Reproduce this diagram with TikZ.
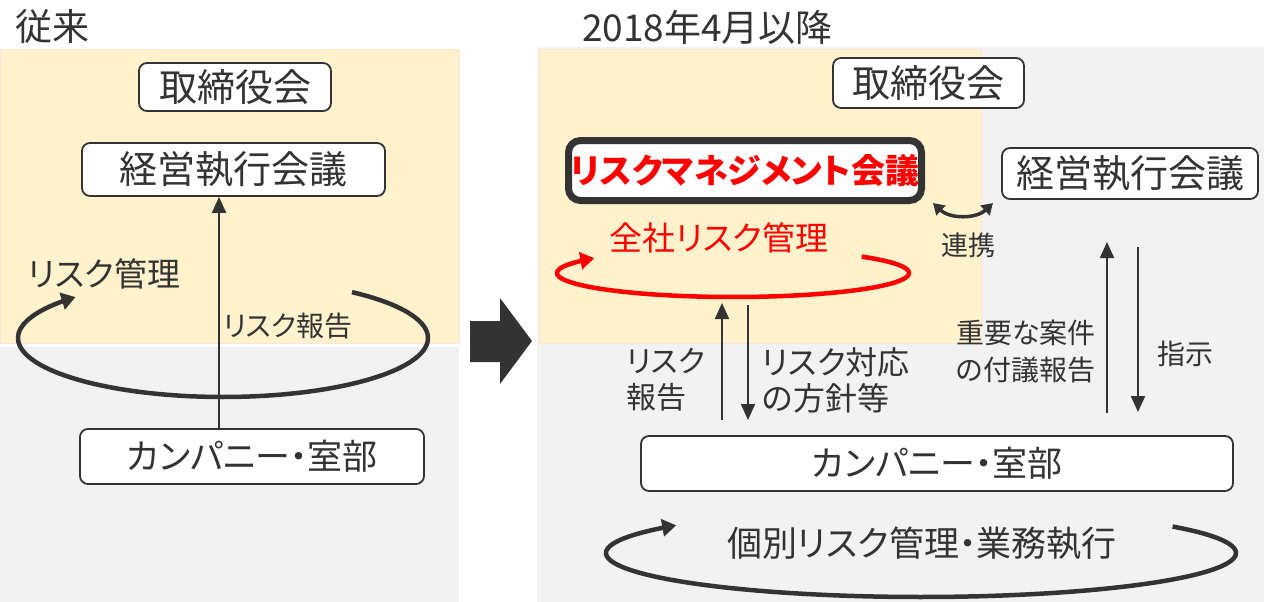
\documentclass[tikz,border=0pt]{standalone}
\usepackage{fontspec}
\setmainfont{Noto Sans CJK JP}[RawFeature=+palt]
\usetikzlibrary{arrows.meta}
\definecolor{dk}{HTML}{333333}
\definecolor{yel}{HTML}{FFF2CC}
\definecolor{yelb}{HTML}{FCE4D6}
\definecolor{gry}{HTML}{F2F2F2}
\definecolor{rd}{HTML}{FF0000}
\tikzset{
  box/.style={draw=dk, line width=1.8pt, rounded corners=8pt, fill=white, inner sep=0pt, text=dk, font=\fontsize{38}{42}\selectfont},
  lbl/.style={text=dk, inner sep=0pt},
  arr/.style={draw=dk, line width=2pt, -{Triangle[length=16pt,width=14pt]}},
  loopline/.style={line width=4.5pt, -{Triangle[length=14pt,width=17pt]}},
  ttl/.style={text=dk, inner sep=0pt, anchor=west, font=\fontsize{37}{40}\selectfont}
}
\begin{document}
\begin{tikzpicture}[x=1pt,y=-1pt]
\useasboundingbox (0,0) rectangle (1264,602);
\fill[white] (0,0) rectangle (1264,602);
% backgrounds
\fill[yel, draw=yelb, line width=1pt] (0.5,50) rectangle (459,343);
\fill[gry] (0,347) rectangle (459,602);
\fill[gry] (537,47) rectangle (1264,602);
\fill[yel, draw=yelb, line width=1pt] (539,50) rectangle (981,343);
% big arrow
\fill[dk] (470,321) -- (500,321) -- (500,298) -- (532,341) -- (500,384) -- (500,362) -- (470,362) -- cycle;

% ---------- left panel ----------
\node[ttl] (t1) at (15,27) {従来};
\node[box, minimum width=192pt, minimum height=48pt] (tL) at (235,87) {取締役会};
\node[box, minimum width=303pt, minimum height=53pt] (keL) at (233.5,169.5) {経営執行会議};
\node[box, minimum width=344pt, minimum height=55pt, font=\fontsize{35}{40}\selectfont] (kcL) at (252,456.5) {カンパニー・室部};
\draw[dk, loopline] plot[domain=-51:224, samples=120] ({223+205*cos(\x)}, {338+59*sin(\x)});
\coordinate (xa) at (219,0);
\draw[arr] (kcL.north -| xa) -- (keL.south -| xa);
\node[lbl, font=\fontsize{33}{36}\selectfont] (rmL) at (104,274) {リスク管理};
\node[lbl, font=\fontsize{28}{30}\selectfont] (rrL) at (288,326) {リスク報告};

% ---------- right panel ----------
\node[ttl] (t2) at (582,27) {2018年4月以降};
\node[box, minimum width=191pt, minimum height=50pt] (tR) at (928.5,83) {取締役会};
\node[box, line width=7pt, rounded corners=12pt, minimum width=353pt, minimum height=60pt, text=rd, font=\fontsize{34}{38}\selectfont\bfseries] (rmc) at (745,170.5) {リスクマネジメント会議};
\node[box, minimum width=256pt, minimum height=51pt] (keR) at (1130,173.5) {経営執行会議};
\node[box, minimum width=592pt, minimum height=55pt, font=\fontsize{35}{40}\selectfont] (kcR) at (937,463.5) {カンパニー・室部};

\node[lbl, text=rd, font=\fontsize{33}{36}\selectfont] (zen) at (719,238) {全社リスク管理};
\draw[rd, loopline] plot[domain=-43:218, samples=120] ({733+176*cos(\x)}, {273+24*sin(\x)});

% renkei
\coordinate (rk1) at (933,203);
\coordinate (rk2) at (993,203);
\draw[dk, line width=3.5pt, {Triangle[length=11pt,width=13pt]}-{Triangle[length=11pt,width=13pt]}] (rk1) .. controls (950,219) and (976,219) .. (rk2);
\node[lbl, font=\fontsize{27}{30}\selectfont] (renkei) at (968,245) {連携};

% arrows rm <-> company
\coordinate (u1a) at (722,420);
\coordinate (u1b) at (722,303);
\coordinate (d1a) at (748,305);
\coordinate (d1b) at (748,420);
\draw[arr] (u1a) -- (u1b);
\draw[arr] (d1a) -- (d1b);
\node[lbl, align=left, font=\fontsize{30}{36}\selectfont] (rr2) at (666,380) {リスク\\報告};
\node[lbl, align=left, font=\fontsize{32}{36}\selectfont, anchor=west] (hs) at (762,380) {リスク対応\\の方針等};

% arrows kei <-> company
\coordinate (u2a) at (1107,413);
\coordinate (u2b) at (1107,242);
\coordinate (d2a) at (1138,247);
\coordinate (d2b) at (1138,412);
\draw[arr] (u2a) -- (u2b);
\draw[arr] (d2a) -- (d2b);
\node[lbl, align=left, font=\fontsize{28}{37}\selectfont] (jy) at (1026,351) {重要な案件\\の付議報告};
\node[lbl, font=\fontsize{28}{30}\selectfont] (sj) at (1185,354) {指示};

% bottom loop
\draw[dk, loopline] plot[domain=-37:219, samples=150] ({921+315*cos(\x)}, {553+44*sin(\x)});
\node[lbl, font=\fontsize{35}{38}\selectfont] (kb) at (922,543) {個別リスク管理・業務執行};
\end{tikzpicture}
\end{document}
